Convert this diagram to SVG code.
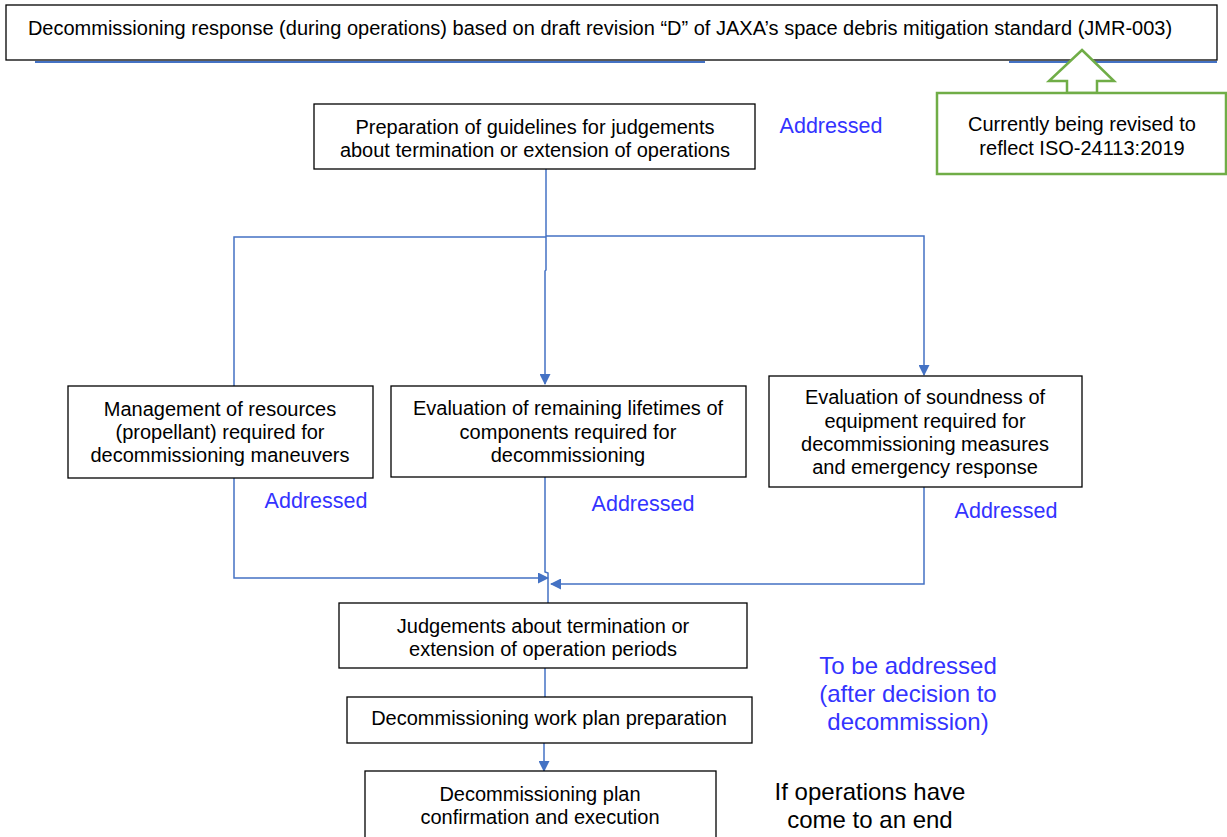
<svg xmlns="http://www.w3.org/2000/svg" width="1227" height="837" viewBox="0 0 1227 837">
<defs>
<marker id="ah" markerWidth="11" markerHeight="11" refX="10" refY="5.5" orient="auto" markerUnits="userSpaceOnUse">
<path d="M0,0 L11,5.5 L0,11 z" fill="#4472C4"/>
</marker>
<style>
.box{fill:#fff;stroke:#000;stroke-width:1.3}
.t{font-family:"Liberation Sans",Arial,sans-serif;font-size:20px;fill:#000;text-anchor:middle}
.b{font-family:"Liberation Sans",Arial,sans-serif;font-size:21.5px;fill:#3333FF;text-anchor:middle}
.big{font-size:24px}
.c{fill:none;stroke:#4472C4;stroke-width:1.5}
</style>
</defs>
<rect width="1227" height="837" fill="#fff"/>

<g id="title">
<line x1="35" y1="62" x2="705" y2="62" stroke="#4472C4" stroke-width="2"/>
<line x1="1009" y1="62" x2="1217" y2="62" stroke="#4472C4" stroke-width="2"/>
<rect class="box" x="6" y="5" width="1211" height="55"/>
<text class="t" x="600" y="35">Decommissioning response (during operations) based on draft revision “D” of JAXA’s space debris mitigation standard (JMR-003)</text>
</g>

<g id="revision-note">
<path d="M1082,50 L1114,81 L1097,81 L1097,93 L1067,93 L1067,81 L1049,81 Z" fill="#fff" stroke="#70AD47" stroke-width="2.5" stroke-linejoin="miter"/>
<rect x="937" y="93" width="289" height="81" fill="#fff" stroke="#70AD47" stroke-width="2.5"/>
<text class="t" x="1082" y="131">Currently being revised to</text>
<text class="t" x="1082" y="155">reflect ISO-24113:2019</text>
</g>

<g id="connectors">
<polyline class="c" points="546,169 546,236"/>
<polyline class="c" points="234,386 234,237 546,237"/>
<polyline class="c" points="546,236 924,236 924,375" marker-end="url(#ah)"/>
<polyline class="c" points="546,236 546,270 545,271 545,384" marker-end="url(#ah)"/>
<polyline class="c" points="234,478 234,578 548,578" marker-end="url(#ah)"/>
<polyline class="c" points="545,477 545,572 548,573 548,603"/>
<polyline class="c" points="924,487 924,584 551,584" marker-end="url(#ah)"/>
<polyline class="c" points="545,668 545,697"/>
<polyline class="c" points="544,743 544,771" marker-end="url(#ah)"/>
</g>

<g id="guidelines">
<rect class="box" x="314" y="104" width="441" height="65"/>
<text class="t" x="535" y="134">Preparation of guidelines for judgements</text>
<text class="t" x="535" y="157">about termination or extension of operations</text>
</g>
<text class="b" x="831" y="133">Addressed</text>

<g id="resources">
<rect class="box" x="68" y="386" width="305" height="92"/>
<text class="t" x="220" y="416">Management of resources</text>
<text class="t" x="220" y="439">(propellant) required for</text>
<text class="t" x="220" y="462">decommissioning maneuvers</text>
</g>
<text class="b" x="316" y="508">Addressed</text>

<g id="lifetimes">
<rect class="box" x="391" y="386" width="355" height="91"/>
<text class="t" x="568" y="415">Evaluation of remaining lifetimes of</text>
<text class="t" x="568" y="439">components required for</text>
<text class="t" x="568" y="462">decommissioning</text>
</g>
<text class="b" x="643" y="511">Addressed</text>

<g id="soundness">
<rect class="box" x="769" y="376" width="313" height="111"/>
<text class="t" x="925" y="404">Evaluation of soundness of</text>
<text class="t" x="925" y="428">equipment required for</text>
<text class="t" x="925" y="451">decommissioning measures</text>
<text class="t" x="925" y="474">and emergency response</text>
</g>
<text class="b" x="1006" y="518">Addressed</text>

<g id="judgements">
<rect class="box" x="339" y="603" width="408" height="65"/>
<text class="t" x="543" y="633">Judgements about termination or</text>
<text class="t" x="543" y="656">extension of operation periods</text>
</g>

<g id="workplan">
<rect class="box" x="347" y="697" width="405" height="46"/>
<text class="t" x="549" y="725">Decommissioning work plan preparation</text>
</g>

<g id="execution">
<rect class="box" x="365" y="771" width="351" height="75"/>
<text class="t" x="540" y="801">Decommissioning plan</text>
<text class="t" x="540" y="824">confirmation and execution</text>
</g>

<text class="b big" x="908" y="674">To be addressed</text>
<text class="b big" x="908" y="702">(after decision to</text>
<text class="b big" x="908" y="730">decommission)</text>

<text class="t big" x="870" y="800">If operations have</text>
<text class="t big" x="870" y="828">come to an end</text>
</svg>
